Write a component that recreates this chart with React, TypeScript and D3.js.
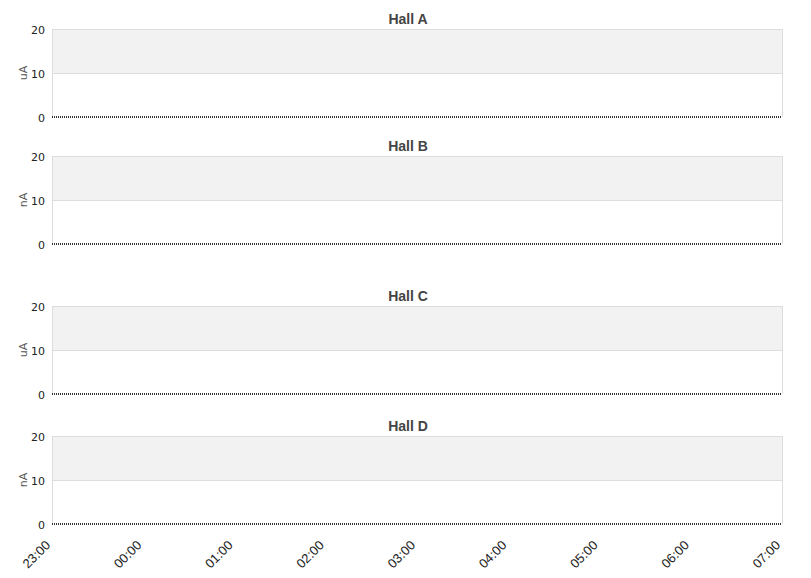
import { useEffect, useRef } from 'react';
import * as d3 from 'd3';

const WIDTH = 811;
const HEIGHT = 578;

const halls = ['Hall A', 'Hall B', 'Hall C', 'Hall D'];
const units = ['uA', 'nA', 'uA', 'nA'];
const panelTops = [29, 156, 306, 436];
const yTicks = [0, 10, 20];
const bandRanges: [number, number][] = [[10, 20]];
// hours after 23:00 on the first day
const timeTicks = [0, 1, 2, 3, 4, 5, 6, 7, 8];
const timeLabels = ['23:00', '00:00', '01:00', '02:00', '03:00', '04:00', '05:00', '06:00', '07:00'];
// beam current readings (all zero for the night)
const currentA = [[0, 0], [8, 0]];
const currentB = [[0, 0], [8, 0]];
const currentC = [[0, 0], [8, 0]];
const currentD = [[0, 0], [8, 0]];
const series = [currentA, currentB, currentC, currentD];

export default function App() {
  const svgRef = useRef<SVGSVGElement>(null);

  useEffect(() => {
    if (!svgRef.current) return;
    const svg = d3.select(svgRef.current);
    svg.selectAll('*').remove();

    const left = 52;
    const right = 782;
    const plotH = 88;

    const x = d3.scaleLinear().domain([0, 8]).range([left, right]);

    halls.forEach((name, i) => {
      const top = panelTops[i];
      const y = d3.scaleLinear().domain([0, 20]).range([top + plotH, top]);
      const g = svg.append('g');

      // ── 밴드 ──
      bandRanges.forEach(([a, b]) => {
        g.append('rect')
          .attr('x', left)
          .attr('y', y(b))
          .attr('width', right - left)
          .attr('height', y(a) - y(b))
          .attr('fill', '#f2f2f2');
      });

      // ── 그리드 ──
      g.selectAll('.grid')
        .data(yTicks.filter((t) => t > 0))
        .enter()
        .append('line')
        .attr('x1', left)
        .attr('x2', right)
        .attr('y1', (d) => y(d) + 0.5)
        .attr('y2', (d) => y(d) + 0.5)
        .attr('stroke', '#dddddd');

      // 좌우 테두리
      [left, right].forEach((px) => {
        g.append('line')
          .attr('x1', px + 0.5)
          .attr('x2', px + 0.5)
          .attr('y1', top)
          .attr('y2', top + plotH)
          .attr('stroke', '#dddddd');
      });

      // ── 축 ──
      const yAxis = g.append('g')
        .attr('transform', `translate(${left - 7},1)`)
        .call(d3.axisLeft(y).tickValues(yTicks).tickSize(0).tickPadding(0));
      yAxis.select('.domain').remove();
      yAxis.selectAll('.tick text')
        .attr('fill', '#222')
        .attr('font-size', '11px')
        .attr('font-family', 'DejaVu Sans');

      // 단위 라벨
      g.append('text')
        .attr('transform', `translate(27,${top + plotH / 2}) rotate(-90)`)
        .attr('text-anchor', 'middle')
        .attr('fill', '#555')
        .attr('font-size', '11px')
        .attr('font-family', 'DejaVu Sans')
        .text(units[i]);

      // 제목
      g.append('text')
        .attr('x', 408)
        .attr('y', top - 5)
        .attr('text-anchor', 'middle')
        .attr('fill', '#444')
        .attr('font-size', '14px')
        .attr('font-weight', 'bold')
        .attr('font-family', 'Liberation Sans, Arial, sans-serif')
        .text(name);

      // ── 데이터 (점선) ──
      const line = d3.line<number[]>()
        .x((d) => x(d[0]))
        .y((d) => y(d[1]));
      g.append('path')
        .datum(series[i])
        .attr('d', line)
        .attr('fill', 'none')
        .attr('stroke', '#333')
        .attr('stroke-width', 2)
        .attr('stroke-dasharray', '1,1');
    });

    // ── 시간축 라벨 ──
    const bottom = panelTops[3] + plotH;
    svg.selectAll('.time-label')
      .data(timeTicks)
      .enter()
      .append('text')
      .attr('transform', (d) => `translate(${x(d) - 1},${bottom + 22}) rotate(-45)`)
      .attr('text-anchor', 'end')
      .attr('fill', '#222')
      .attr('font-size', '13px')
      .attr('font-family', 'Liberation Sans, Arial, sans-serif')
      .text((d, i) => timeLabels[i]);
  }, []);

  return (
    <svg
      ref={svgRef}
      width={WIDTH}
      height={HEIGHT}
      style={{ position: 'absolute', left: 0, top: 0, background: '#fff' }}
    />
  );
}
